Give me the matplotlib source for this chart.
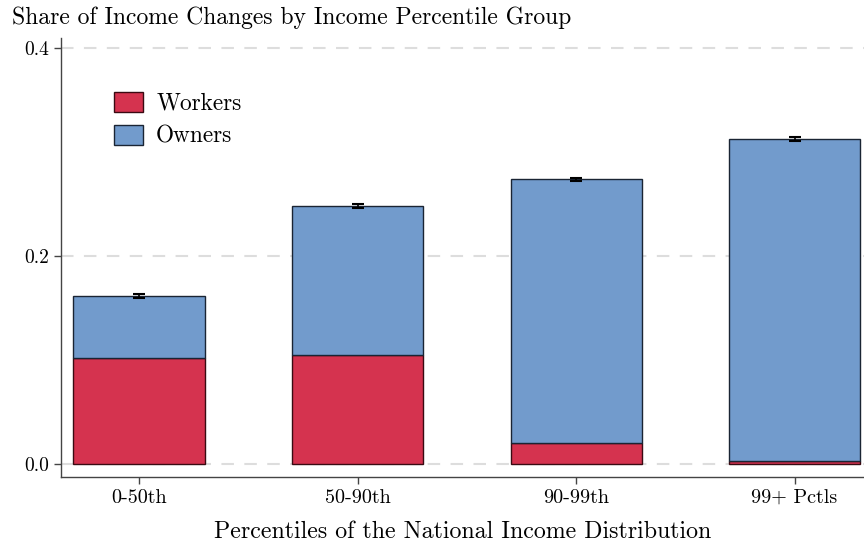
import numpy as np
import matplotlib
matplotlib.use("Agg")
import matplotlib.pyplot as plt

plt.rcParams['font.family'] = ['cmr10', 'DejaVu Serif']
plt.rcParams['mathtext.fontset'] = 'cm'
plt.rcParams['axes.formatter.use_mathtext'] = True

groups = ['0-50th', '50-90th', '90-99th', '99+ Pctls']
workers = [0.102, 0.105, 0.020, 0.003]
owners = [0.0595, 0.143, 0.254, 0.3095]
err = [0.002, 0.002, 0.0015, 0.002]

red = '#D5334F'
blue = '#729BCC'

fig = plt.figure(figsize=(8.64, 5.44), dpi=100)
ax = fig.add_axes([0.0706, 0.1232, 0.93, 0.807])

x = np.arange(len(groups))
totals = np.array(workers) + np.array(owners)
ax.bar(x, workers, width=0.6, color=red, edgecolor='#3a0a12', linewidth=1.0, label='Workers', zorder=3)
ax.bar(x, owners, width=0.6, bottom=workers, color=blue, edgecolor='#1a2433', linewidth=1.0,
       label='Owners', zorder=3)
ax.errorbar(x, totals, yerr=err, fmt='none', ecolor='black', elinewidth=1.2, capsize=4,
            capthick=1.5, zorder=4)

ax.set_xlim(-0.357, 3.32)
ax.set_ylim(-0.0125, 0.41)
ax.set_xticks(x)
ax.set_xticklabels(groups, fontsize=14.5)
ax.set_yticks([0.0, 0.2, 0.4])
ax.set_yticklabels(['0.0', '0.2', '0.4'], fontsize=14)
ax.tick_params(direction='out', length=5, width=1, color='#444444')

ax.yaxis.grid(True, linestyle=(0, (6, 5)), color='#dddddd', linewidth=1.5, zorder=0)
ax.set_axisbelow(True)
for s in ['top', 'right']:
    ax.spines[s].set_visible(False)
for s in ['left', 'bottom']:
    ax.spines[s].set_color('#444444')
    ax.spines[s].set_linewidth(1.0)

ax.set_xlabel('Percentiles of the National Income Distribution', fontsize=17.2, labelpad=10)
fig.text(0.014, 0.968, 'Share of Income Changes by Income Percentile Group', fontsize=17,
         ha='left', va='center')

ax.legend(loc='upper left', bbox_to_anchor=(0.04, 0.925), frameon=False, fontsize=16.8,
          handlelength=1.25, handleheight=0.95, handletextpad=0.55, labelspacing=0.42)

fig.savefig('out.png', dpi=100)
